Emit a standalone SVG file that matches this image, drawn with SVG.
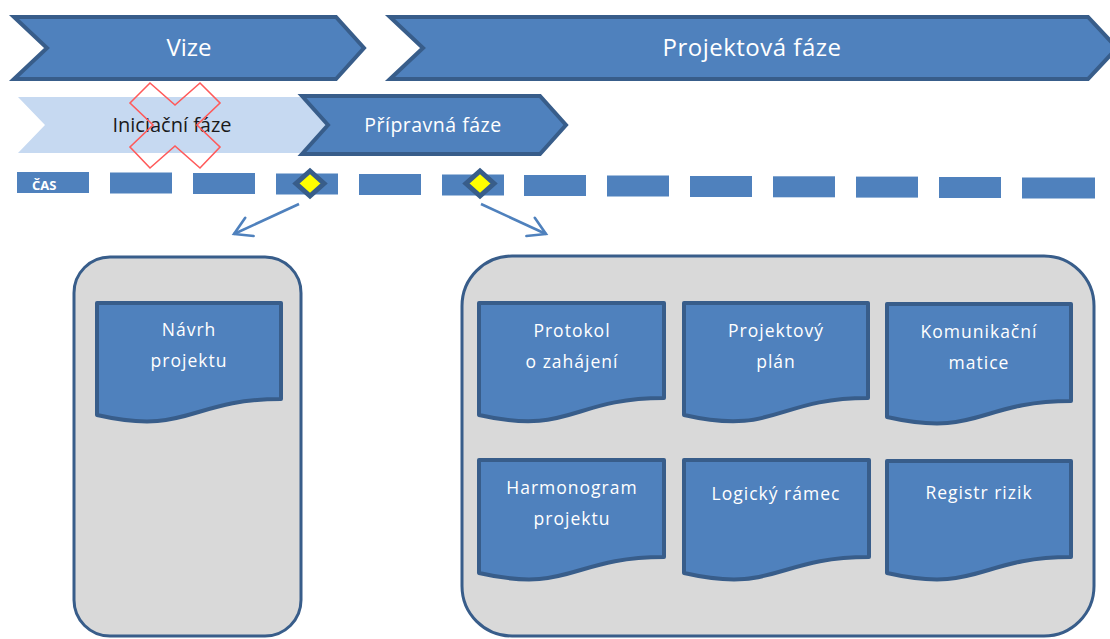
<svg xmlns="http://www.w3.org/2000/svg" width="1110" height="639" viewBox="0 0 1110 639">
  <defs>
    <style>
      .chev { fill: #4F81BD; stroke: #385D8A; stroke-width: 4; stroke-linejoin: miter; }
      .chev-light { fill: #C6D9F1; stroke: none; }
      .phase { font-family: "Open Sans", "DejaVu Sans", sans-serif; fill: #FFFFFF; text-anchor: middle; }
      .dash { fill: #4F81BD; }
      .milestone { fill: #FFFF00; stroke: #385D8A; stroke-width: 5; stroke-linejoin: miter; }
      .arrow { stroke: #4F81BD; stroke-width: 2.6; fill: none; marker-end: url(#openHead); }
      .panel { fill: #D9D9D9; stroke: #385D8A; stroke-width: 3; }
      .doc { fill: #4F81BD; stroke: #385D8A; stroke-width: 4; stroke-linejoin: round; }
      .doc-text { font-family: "Open Sans", "DejaVu Sans", sans-serif; font-size: 17.5px; letter-spacing: 1px; fill: #FFFFFF; text-anchor: middle; }
    </style>
    <marker id="openHead" viewBox="0 0 24 26" refX="20" refY="13" markerWidth="24" markerHeight="26" markerUnits="userSpaceOnUse" orient="auto">
      <path d="M3,3 L20,13 L3,23" fill="none" stroke="#4F81BD" stroke-width="2.6" stroke-linecap="round" stroke-linejoin="miter"/>
    </marker>
  </defs>

  <rect width="1110" height="639" fill="#FFFFFF"/>

  <!-- Top-level phases -->
  <g id="phase-vize">
    <path class="chev" d="M14,17 L336,17 L364,48 L336,79 L14,79 L47,48 Z"/>
    <text class="phase" x="189" y="56" font-size="24">Vize</text>
  </g>
  <g id="phase-projektova">
    <path class="chev" d="M390,17 L1088,17 L1117,48 L1088,79 L390,79 L423,48 Z"/>
    <text class="phase" x="752" y="56" font-size="24" letter-spacing="0.5">Projektová fáze</text>
  </g>

  <!-- Sub-phases -->
  <g id="phase-iniciacni">
    <path class="chev-light" d="M18,97 L300,97 L328,125 L300,153 L18,153 L45,125 Z"/>
    <text x="172" y="132" font-family="'Open Sans', 'DejaVu Sans', sans-serif" font-size="20" fill="#1A1A1A" text-anchor="middle">Iniciační fáze</text>
    <!-- crossed-out mark -->
    <path d="M130,103 L150,83 L175,105 L200,83 L220,103 L197,125 L220,147 L200,168 L175,146 L150,168 L130,147 L153,125 Z" fill="none" stroke="#FF5A5A" stroke-width="1.6" stroke-linejoin="miter"/>
  </g>
  <g id="phase-pripravna">
    <path class="chev" d="M302,96 L540,96 L566,125 L540,154 L302,154 L328,125 Z"/>
    <text class="phase" x="433" y="132" font-size="19.5" letter-spacing="0.5">Přípravná fáze</text>
  </g>

  <!-- Time axis -->
  <g id="timeline">
    <rect class="dash" x="17" y="172" width="72" height="21"/>
    <text x="32" y="190" font-family="'Open Sans', 'DejaVu Sans', sans-serif" font-size="13" font-weight="bold" fill="#FFFFFF">ČAS</text>
    <rect class="dash" x="110" y="172.5" width="62" height="21"/>
    <rect class="dash" x="193" y="173" width="62" height="21"/>
    <rect class="dash" x="276" y="173.5" width="62" height="21"/>
    <rect class="dash" x="359" y="174" width="62" height="21"/>
    <rect class="dash" x="442" y="174.5" width="62" height="21"/>
    <rect class="dash" x="524" y="175" width="62" height="21"/>
    <rect class="dash" x="607" y="175.5" width="62" height="21"/>
    <rect class="dash" x="690" y="176" width="62" height="21"/>
    <rect class="dash" x="773" y="176.3" width="62" height="21"/>
    <rect class="dash" x="856" y="176.6" width="62" height="21"/>
    <rect class="dash" x="939" y="177" width="62" height="21"/>
    <rect class="dash" x="1022" y="177.5" width="73" height="21"/>
  </g>
  <g id="milestone-1">
    <polygon class="milestone" points="310,171 324,183.5 310,196 296,183.5"/>
  </g>
  <g id="milestone-2">
    <polygon class="milestone" points="480,171 494,183.5 480,196 466,183.5"/>
  </g>

  <!-- Connectors -->
  <g id="connectors">
    <line class="arrow" x1="299" y1="204" x2="234" y2="234"/>
    <line class="arrow" x1="481" y1="204" x2="546" y2="234"/>
  </g>

  <!-- Outputs of the initiation phase -->
  <g id="panel-iniciace">
    <rect class="panel" x="74" y="257" width="227" height="379" rx="36" ry="36"/>
  </g>
  <g id="doc-navrh">
    <path class="doc" d="M97,303 H281 V399 C189,399 189,436 97,415 Z"/>
    <text class="doc-text" x="189" y="336">Návrh</text>
    <text class="doc-text" x="189" y="367">projektu</text>
  </g>

  <!-- Outputs of the preparatory phase -->
  <g id="panel-priprava">
    <rect class="panel" x="462" y="256" width="632" height="380" rx="50" ry="50"/>
  </g>
  <g id="doc-protokol">
    <path class="doc" d="M479,303 H664 V398 C571,398 571,436 479,415 Z"/>
    <text class="doc-text" x="572" y="337">Protokol</text>
    <text class="doc-text" x="572" y="368">o zahájení</text>
  </g>
  <g id="doc-plan">
    <path class="doc" d="M684,303 H868 V398 C776,398 776,436 684,415 Z"/>
    <text class="doc-text" x="776" y="337">Projektový</text>
    <text class="doc-text" x="776" y="368">plán</text>
  </g>
  <g id="doc-matice">
    <path class="doc" d="M887,304 H1071 V401 C979,401 979,438 887,417 Z"/>
    <text class="doc-text" x="979" y="338">Komunikační</text>
    <text class="doc-text" x="979" y="369">matice</text>
  </g>
  <g id="doc-harmonogram">
    <path class="doc" d="M479,460 H664 V557 C571,557 571,594 479,573 Z"/>
    <text class="doc-text" x="572" y="494">Harmonogram</text>
    <text class="doc-text" x="572" y="525">projektu</text>
  </g>
  <g id="doc-ramec">
    <path class="doc" d="M684,460 H869 V557 C776,557 776,594 684,573 Z"/>
    <text class="doc-text" x="776" y="500">Logický rámec</text>
  </g>
  <g id="doc-rizika">
    <path class="doc" d="M887,461 H1071 V557 C979,557 979,594 887,573 Z"/>
    <text class="doc-text" x="979" y="499">Registr rizik</text>
  </g>
</svg>
